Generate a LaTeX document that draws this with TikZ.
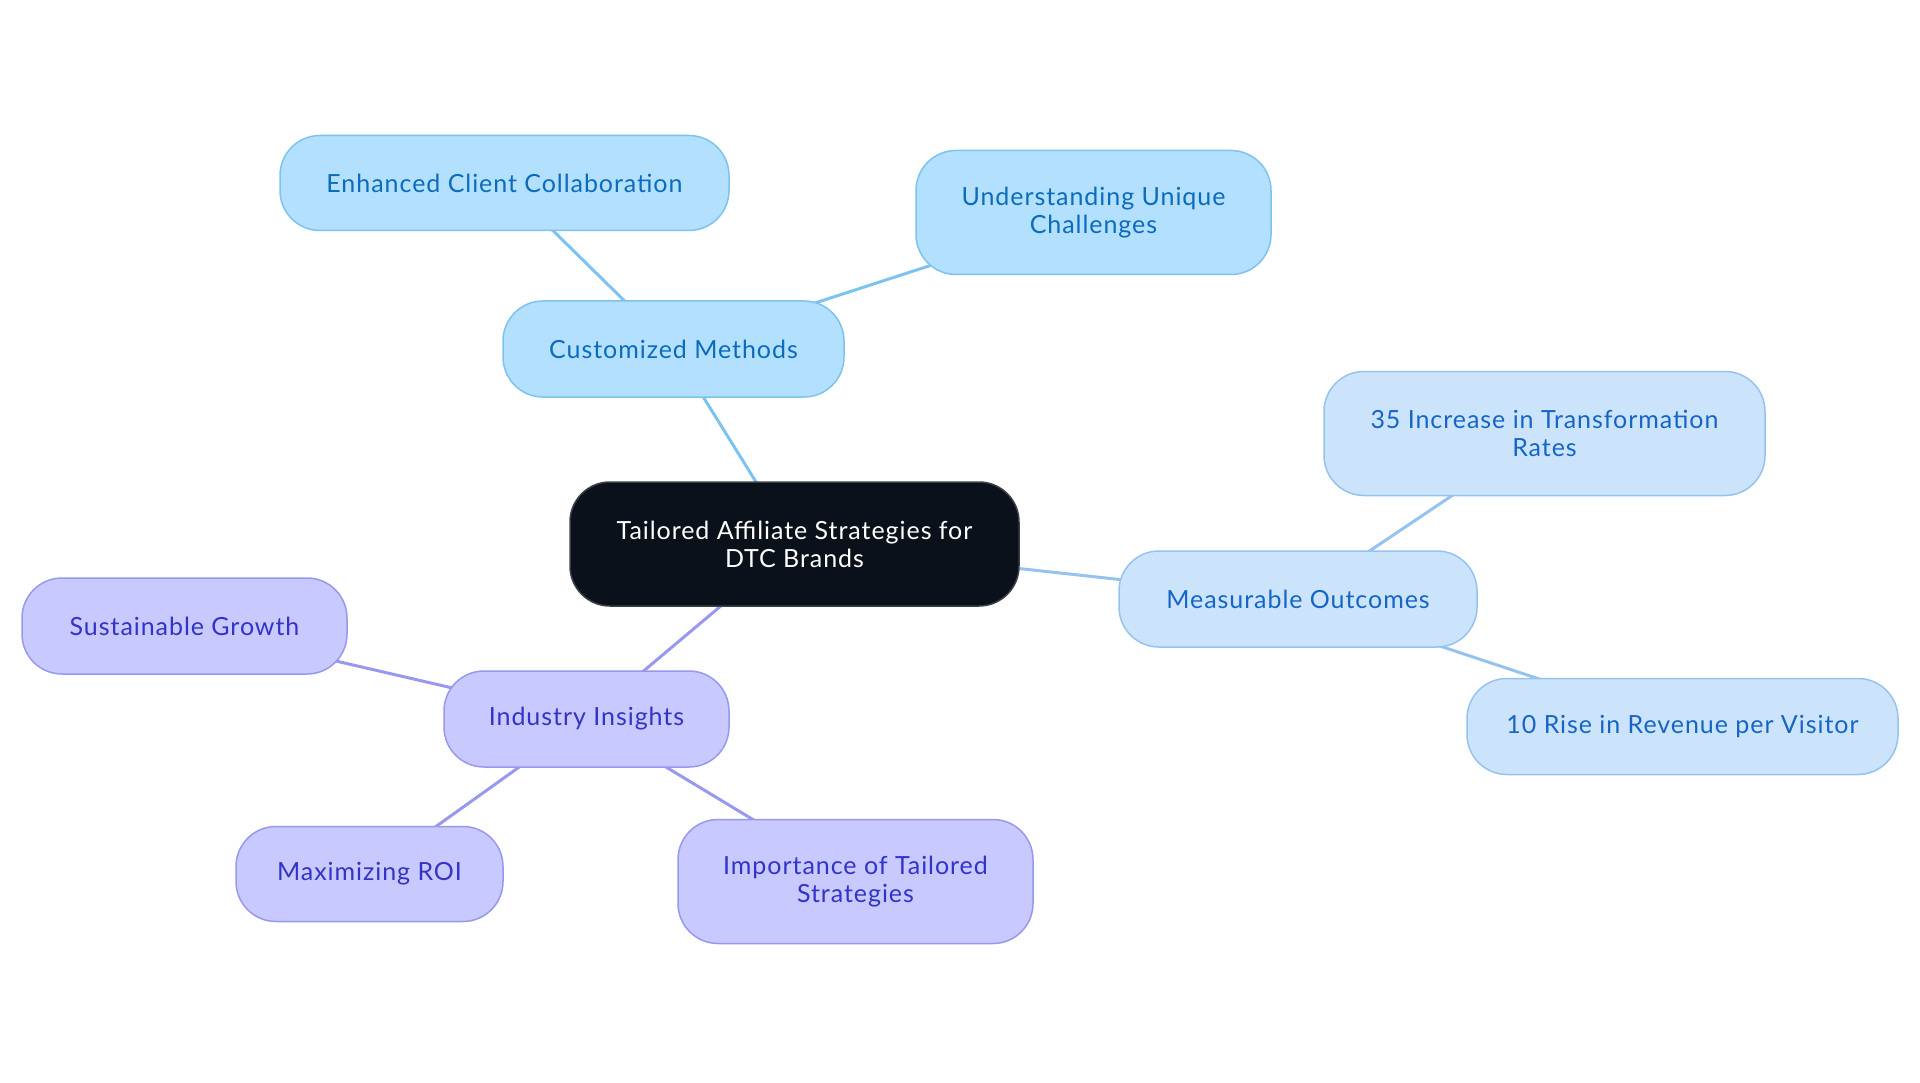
\documentclass[tikz,border=0pt]{standalone}
\usepackage{fontspec}
\setmainfont{Lato}[LetterSpace=3.8]
\usetikzlibrary{backgrounds}
\definecolor{rootfill}{HTML}{0B111A}
\definecolor{rootdraw}{HTML}{3A3F46}
\definecolor{bfill}{HTML}{B3E0FE}
\definecolor{bdraw}{HTML}{7DC3F0}
\definecolor{btext}{HTML}{0B6BBD}
\definecolor{mfill}{HTML}{CCE4FB}
\definecolor{mdraw}{HTML}{96C2EF}
\definecolor{mtext}{HTML}{1565C8}
\definecolor{pfill}{HTML}{C8C9FE}
\definecolor{pdraw}{HTML}{9898EE}
\definecolor{ptext}{HTML}{3333C8}
\tikzset{
  box/.style={rounded corners=40pt, line width=1.5pt, inner sep=0pt, align=center,
    font=\fontsize{25}{28}\selectfont},
  rootbox/.style={box, fill=rootfill, draw=rootdraw, text=white},
  bluebox/.style={box, fill=bfill, draw=bdraw, text=btext},
  skybox/.style={box, fill=mfill, draw=mdraw, text=mtext},
  purplebox/.style={box, fill=pfill, draw=pdraw, text=ptext},
  link/.style={line width=3pt}
}
\begin{document}
\begin{tikzpicture}[x=1pt,y=-1pt]
\useasboundingbox (0,0) rectangle (1920,1083);
\node[rootbox, minimum width=449pt, minimum height=124pt] (root) at (794.5,544) {Tailored Affiliate Strategies for\\DTC Brands};
\node[bluebox, minimum width=341pt, minimum height=96pt] (cm) at (673.5,349) {Customized Methods};
\node[bluebox, minimum width=449pt, minimum height=95pt] (ecc) at (504.5,183) {Enhanced Client Collaboration};
\node[bluebox, minimum width=355pt, minimum height=124pt] (uuc) at (1093.5,212.5) {Understanding Unique\\Challenges};
\node[skybox, minimum width=358pt, minimum height=96pt] (mo) at (1298,599) {Measurable Outcomes};
\node[skybox, minimum width=441pt, minimum height=124pt] (inc) at (1544.5,433.5) {35 Increase in Transformation\\Rates};
\node[skybox, minimum width=431pt, minimum height=96pt] (rise) at (1682.5,726.5) {10 Rise in Revenue per Visitor};
\node[purplebox, minimum width=285pt, minimum height=96pt] (ii) at (586.5,719) {Industry Insights};
\node[purplebox, minimum width=325pt, minimum height=96pt] (sg) at (184.5,626) {Sustainable Growth};
\node[purplebox, minimum width=267pt, minimum height=95pt] (roi) at (369.5,874) {Maximizing ROI};
\node[purplebox, minimum width=355pt, minimum height=124pt] (imp) at (855.5,881.5) {Importance of Tailored\\Strategies};
\begin{scope}[on background layer]
\draw[link, bdraw] (root.center) -- (cm.center);
\draw[link, bdraw] (cm.center) -- (ecc.center);
\draw[link, bdraw] (cm.center) -- (uuc.center);
\draw[link, mdraw] (root.center) -- (mo.center);
\draw[link, mdraw] (mo.center) -- (inc.center);
\draw[link, mdraw] (mo.center) -- (rise.center);
\draw[link, pdraw] (root.center) -- (ii.center);
\draw[link, pdraw] (ii.center) -- (sg.center);
\draw[link, pdraw] (ii.center) -- (roi.center);
\draw[link, pdraw] (ii.center) -- (imp.center);
\end{scope}
\end{tikzpicture}
\end{document}
